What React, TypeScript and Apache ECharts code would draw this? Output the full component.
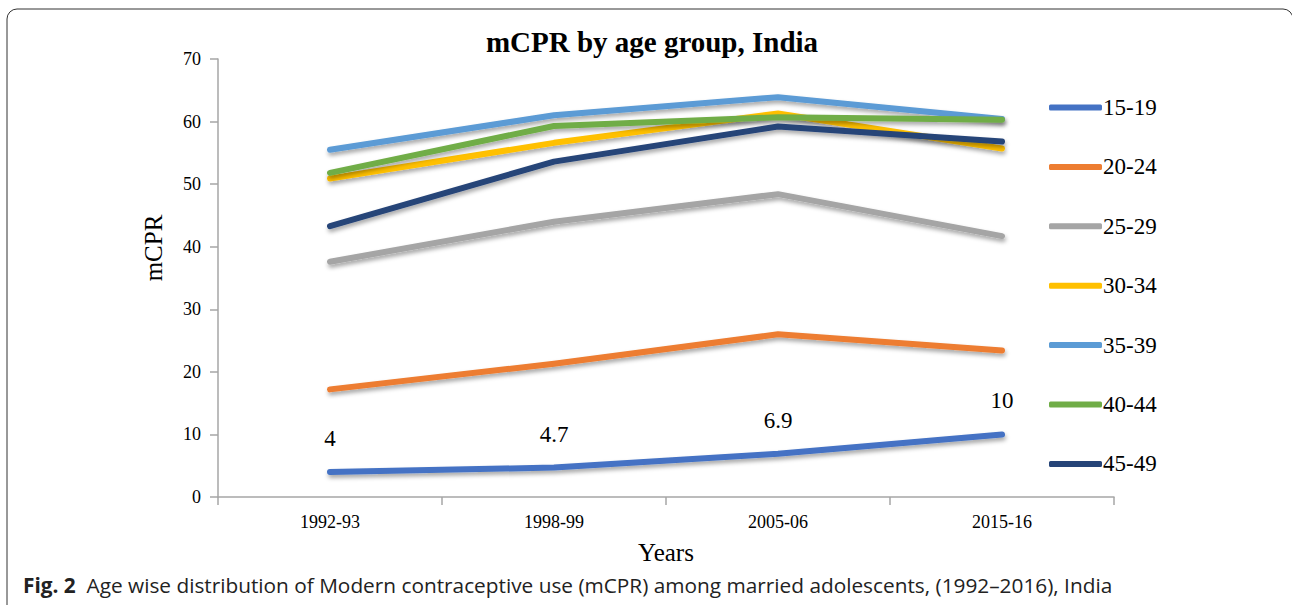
import React, { useEffect, useRef } from "react";
import * as echarts from "echarts";

const categories = ["1992-93", "1998-99", "2005-06", "2015-16"];
const seriesNames = ["15-19", "20-24", "25-29", "30-34", "35-39", "40-44", "45-49"];
const s15_19 = [4, 4.7, 6.9, 10];
const s20_24 = [17.2, 21.3, 26.0, 23.4];
const s25_29 = [37.6, 44.0, 48.4, 41.7];
const s30_34 = [50.9, 56.6, 61.3, 55.7];
const s35_39 = [55.5, 61.0, 63.9, 60.4];
const s40_44 = [51.8, 59.3, 60.7, 60.3];
const s45_49 = [43.3, 53.6, 59.2, 56.8];
const yTicks = [0, 10, 20, 30, 40, 50, 60, 70];
const colors = ["#4472C4", "#ED7D31", "#A5A5A5", "#FFC000", "#5B9BD5", "#70AD47", "#264478"];

const serif = "'Liberation Serif', 'Times New Roman', serif";

export default function App() {
  const ref = useRef<HTMLDivElement>(null);
  useEffect(() => {
    document.body.style.margin = "0";
    const chart = echarts.init(ref.current!, null, { renderer: "svg" });
    const values = [s15_19, s20_24, s25_29, s30_34, s35_39, s40_44, s45_49];
    const series = values.map((data, i) => ({
      name: seriesNames[i],
      type: "line",
      data,
      symbol: "circle",
      symbolSize: 0.1,
      showSymbol: true,
      z: 2 + i,
      lineStyle: {
        color: colors[i],
        width: 6,
        cap: "round",
        join: "round",
        shadowColor: "rgba(0,0,0,0.35)",
        shadowBlur: 4,
        shadowOffsetX: 1,
        shadowOffsetY: 3,
      },
      itemStyle: { color: colors[i] },
      emphasis: { disabled: true },
      label:
        i === 0
          ? {
              show: true,
              position: "top",
              distance: 22,
              fontFamily: serif,
              fontSize: 23,
              color: "#000",
            }
          : { show: false },
    }));
    chart.setOption({
      animation: false,
      backgroundColor: "#fff",
      title: {
        text: "mCPR by age group, India",
        left: 647,
        top: 22,
        textAlign: "center",
        textStyle: { fontFamily: serif, fontWeight: "bold", fontSize: 29, color: "#000" },
      },
      grid: { left: 218, right: 178, top: 59, bottom: 108, containLabel: false },
      legend: {
        orient: "vertical",
        left: 1049,
        top: 96,
        padding: 0,
        itemGap: 36.4,
        itemWidth: 53,
        itemHeight: 6,
        icon: "roundRect",
        data: seriesNames,
        itemStyle: { opacity: 1 },
        textStyle: { fontFamily: serif, fontSize: 23, color: "#000", lineHeight: 23, padding: [0, 0, 0, -4] },
      },
      xAxis: {
        type: "category",
        data: categories,
        boundaryGap: true,
        name: "Years",
        nameLocation: "middle",
        nameGap: 43,
        nameTextStyle: { fontFamily: serif, fontSize: 25, color: "#000" },
        axisLine: { lineStyle: { color: "#A6A6A6", width: 1.5 } },
        axisTick: { show: true, length: 8, alignWithLabel: false, lineStyle: { color: "#A6A6A6", width: 1.5 } },
        axisLabel: { fontFamily: serif, fontSize: 18, color: "#000", margin: 16 },
        splitLine: { show: false },
      },
      yAxis: {
        type: "value",
        min: yTicks[0],
        max: yTicks[yTicks.length - 1],
        interval: 10,
        name: "mCPR",
        nameLocation: "middle",
        nameGap: 52,
        nameTextStyle: { fontFamily: serif, fontSize: 25, color: "#000", padding: [0, 0, 0, 60] },
        axisLine: { show: true, lineStyle: { color: "#A6A6A6", width: 1.5 } },
        axisTick: { show: true, length: 8, lineStyle: { color: "#A6A6A6", width: 1.5 } },
        axisLabel: { fontFamily: serif, fontSize: 18, color: "#000", margin: 17 },
        splitLine: { show: false },
      },
      series,
      graphic: [
        {
          type: "rect",
          shape: { x: 7, y: 9, width: 1286, height: 640, r: 10 },
          style: { fill: "none", stroke: "#333", lineWidth: 1 },
          silent: true,
          z: -1,
        },
        {
          type: "text",
          x: 23,
          y: 585,
          style: {
            text: "{b|Fig. 2}  Age wise distribution of Modern contraceptive use (mCPR) among married adolescents, (1992–2016), India",
            fontFamily: "'Open Sans', sans-serif",
            fontSize: 20.8,
            fill: "#222",
            verticalAlign: "middle",
            rich: {
              b: { fontFamily: "'Open Sans', sans-serif", fontSize: 20.8, fontWeight: "bold", fill: "#222" },
            },
          },
        },
      ],
    });
    return () => chart.dispose();
  }, []);
  return <div ref={ref} style={{ position: "absolute", left: 0, top: 0, width: 1292, height: 605 }} />;
}
